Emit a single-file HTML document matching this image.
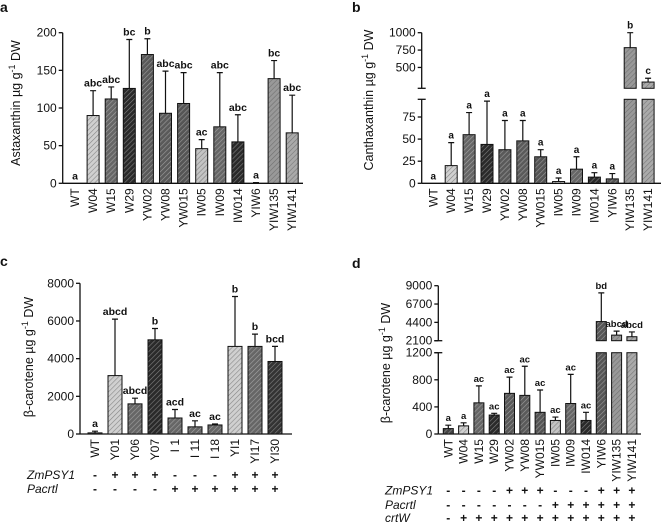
<!DOCTYPE html>
<html><head><meta charset="utf-8">
<style>
body{margin:0;background:#fff;}
svg{display:block;font-family:"Liberation Sans",sans-serif;}
</style></head>
<body>
<svg id="chart" width="661" height="522" viewBox="0 0 661 522">
<defs></defs>
</svg>
<script>
// ---- Panel a data ----
const catsABD = ["WT","W04","W15","W29","YW02","YW08","YW015","IW05","IW09","IW014","YIW6","YIW135","YIW141"];
const aVals = [0,90,112,126,171,93,106,46,75,55,0,139,67];
const aErr = [0,123,128,191,192,149,147,58,147,91,1,163,117];
const aLetters = ["a","abc","abc","bc","b","abc","abc","ac","abc","abc","a","bc","abc"];
const aTicks = [0,50,100,150,200];
// ---- Panel b data ----
const bVals = [0,20,55,44,38,48,30,2,16,7,5,785,290];
const bErr = [0,46,80,93,71,71,38,6,30,12,11,1000,345];
const bLetters = ["a","a","a","a","a","a","a","a","a","a","a","b","c"];
const bTicksLow = [0,25,50,75];
const bTicksHigh = [500,750,1000];
// ---- Panel c data ----
const catsC = ["WT","Y01","Y06","Y07","I 1","I 11","I 18","YI1","YI17","YI30"];
const cVals = [60,3100,1600,5000,850,380,480,4650,4650,3850];
const cErr = [150,6100,1900,5600,1300,700,530,7300,5300,4650];
const cLetters = ["a","abcd","abcd","b","acd","ac","ac","b","b","bcd"];
const cTicks = [0,2000,4000,6000,8000];
const cPSY = ["-","+","+","+","-","-","-","+","+","+"];
const cCrtI = ["-","-","-","-","+","+","+","+","+","+"];
// ---- Panel d data ----
const dVals = [80,120,460,280,600,570,320,200,450,200,4500,2800,2600];
const dErr = [130,165,710,305,840,1000,650,250,880,320,8100,3300,3200];
const dLetters = ["a","a","ac","ac","ac","ac","ac","ac","ac","ac","bd","abcd","abcd"];
const dTicksLow = [0,400,800,1200];
const dTicksHigh = [2100,4400,6700,9000];
const dPSY = ["-","-","-","-","+","+","+","-","-","-","+","+","+"];
const dCrtI = ["-","-","-","-","-","-","-","+","+","+","+","+","+"];
const dCrtW = ["-","+","+","+","+","+","+","+","+","+","+","+","+"];

const shadesABD = ["#444","#d0d0d0","#666","#2a2a2a","#595959","#5a5a5a","#555","#c4c4c4","#666","#2a2a2a","#555","#999","#aaa"];
const shadesC = ["#666","#d0d0d0","#666","#2a2a2a","#666","#666","#666","#d0d0d0","#666","#333"];

const NS="http://www.w3.org/2000/svg";
const svg=document.getElementById('chart');
const defs=svg.querySelector('defs');
function el(tag,attrs,parent){const e=document.createElementNS(NS,tag);for(const k in attrs)e.setAttribute(k,attrs[k]);(parent||svg).appendChild(e);return e;}
const patMap={};
function pattern(color){
  if(patMap[color])return patMap[color];
  const id='p'+Object.keys(patMap).length;
  const light=parseInt(color.slice(1,3),16)>140;
  const p=el('pattern',{id:id,patternUnits:'userSpaceOnUse',width:3.5,height:3.5,patternTransform:'rotate(45)'},defs);
  el('rect',{x:0,y:0,width:3.5,height:3.5,fill:color},p);
  el('line',{x1:0,y1:0,x2:0,y2:3.5,stroke:light?'#555':'#fff','stroke-opacity':light?0.6:0.4,'stroke-width':1.2},p);
  patMap[color]='url(#'+id+')';return patMap[color];
}
function text(x,y,s,opts){const t=el('text',Object.assign({x:x,y:y,'font-size':12,fill:'#111'},opts||{}));t.textContent=s;return t;}

function panel(cfg){
  const g=el('g',{});
  
  
  const xc=i=>cfg.x0+i*cfg.step;
  const y=v=>{
    if(!cfg.brk||v<=cfg.brk.lowMax) return cfg.y0-v*cfg.k;
    return cfg.brk.upY0-(v-cfg.brk.upMin)*cfg.brk.upK;
  };
  if(cfg.brk){
    el('line',{x1:cfg.ax,y1:cfg.y0,x2:cfg.ax,y2:cfg.brk.lowTop,stroke:'#111','stroke-width':1.3},g);
    el('line',{x1:cfg.ax,y1:cfg.brk.upY0,x2:cfg.ax,y2:y(cfg.ticksHigh[cfg.ticksHigh.length-1]),stroke:'#111','stroke-width':1.3},g);
    el('line',{x1:cfg.ax-4,y1:cfg.brk.lowTop,x2:cfg.ax+4,y2:cfg.brk.lowTop,stroke:'#111','stroke-width':1.3},g);
    el('line',{x1:cfg.ax-4,y1:cfg.brk.upY0,x2:cfg.ax+4,y2:cfg.brk.upY0,stroke:'#111','stroke-width':1.3},g);
  } else {
    el('line',{x1:cfg.ax,y1:cfg.y0,x2:cfg.ax,y2:y(cfg.ticks[cfg.ticks.length-1]),stroke:'#111','stroke-width':1.3},g);
  }
  el('line',{x1:cfg.ax,y1:cfg.y0,x2:cfg.axEnd,y2:cfg.y0,stroke:'#111','stroke-width':1.3},g);
  const allTicks=cfg.brk?cfg.ticks.concat(cfg.ticksHigh):cfg.ticks;
  allTicks.forEach(t=>{
    const yy=y(t);
    el('line',{x1:cfg.ax-4,y1:yy,x2:cfg.ax,y2:yy,stroke:'#111','stroke-width':1.3},g);
    const tl=text(cfg.ax-6,yy+4,String(t),{'text-anchor':'end','font-size':12});
    
    
    g.appendChild(tl);
  });
  const yt=el('text',{x:0,y:0,'font-size':12.5,fill:'#111','text-anchor':'middle',transform:`translate(${cfg.ytx},${cfg.yty}) rotate(-90)`},g);
  yt.innerHTML=cfg.ytitle+' µg g<tspan dy="-5" font-size="9">-1</tspan><tspan dy="5"> DW</tspan>';
  
  
  cfg.vals.forEach((v,i)=>{
    const cx=xc(i),w=cfg.bw,f=pattern(cfg.shades[i]);
    if(cfg.brk&&v>cfg.brk.lowMax){
      const r1=el('rect',{x:cx-w/2,y:cfg.brk.lowTop,width:w,height:cfg.y0-cfg.brk.lowTop,fill:f,stroke:'#111','stroke-width':1},g);
      
      
      const r2=el('rect',{x:cx-w/2,y:y(v),width:w,height:cfg.brk.upY0-y(v),fill:f,stroke:'#111','stroke-width':1},g);
      
      
    } else {
      const r=el('rect',{x:cx-w/2,y:y(v),width:w,height:Math.max(0,cfg.y0-y(v)),fill:f,stroke:'#111','stroke-width':1},g);
      
      
    }
    const e=cfg.err[i];
    if(e>v){
      const eb=el('path',{d:`M${cx},${y(v)}V${y(e)}M${cx-3},${y(e)}H${cx+3}`,stroke:'#111','stroke-width':1.2,fill:'none'},g);
      
      
    }
    const lt=text(cx,y(Math.max(e,v))-4,cfg.letters[i],{'text-anchor':'middle','font-size':cfg.lfs||10.5,'font-weight':'bold'});
    
    
    g.appendChild(lt);
    const xl=el('text',{x:0,y:0,'font-size':12,fill:'#111','text-anchor':'end',transform:`translate(${cx+4},${cfg.y0+5}) rotate(-90)`},g);
    xl.textContent=cfg.cats[i];
    
    
  });
  (cfg.rows||[]).forEach(r=>{
    const lab=text(r.lx,r.y+4,r.label,{'font-style':'italic','font-size':12});
    
    
    g.appendChild(lab);
    r.signs.forEach((s,i)=>{
      const st=text(xc(i),r.y+4,s,{'text-anchor':'middle','font-size':12,'font-weight':'bold'});
      
      
      g.appendChild(st);
    });
  });
  const pl=text(cfg.plx,cfg.ply,cfg.plabel,{'font-size':14,'font-weight':'bold'});
  
  
  g.appendChild(pl);
}

panel({name:'panel-a',cats:catsABD,vals:aVals,err:aErr,letters:aLetters,ticks:aTicks,shades:shadesABD,
  x0:75,step:18.1,bw:12,ax:62.7,axEnd:303,y0:183.3,k:150.6/200,ytitle:'Astaxanthin',ytx:20,yty:103,
  plabel:'a',plx:0,ply:12});
panel({name:'panel-b',cats:catsABD,vals:bVals,err:bErr,letters:bLetters,ticks:bTicksLow,ticksHigh:bTicksHigh,shades:shadesABD,
  x0:433.3,step:17.9,bw:12,ax:421.7,axEnd:661,y0:183.3,k:0.884,lfs:10,
  brk:{lowMax:105,lowTop:99.3,upMin:200,upY0:88.3,upK:55.6/800},
  ytitle:'Canthaxanthin',ytx:373,yty:100,plabel:'b',plx:352,ply:12});
panel({name:'panel-c',cats:catsC,vals:cVals,err:cErr,letters:cLetters,ticks:cTicks,shades:shadesC,
  x0:95,step:20,bw:14,ax:80,axEnd:292,y0:434,k:150.7/8000,ytitle:'β-carotene',ytx:33,yty:357,
  rows:[{label:'ZmPSY1',y:475,lx:27,signs:cPSY},{label:'Pacrtl',y:489,lx:27,signs:cCrtI}],
  plabel:'c',plx:0,ply:266});
panel({name:'panel-d',cats:catsABD,vals:dVals,err:dErr,letters:dLetters,ticks:dTicksLow,ticksHigh:dTicksHigh,shades:shadesABD,
  x0:448.3,step:15.3,bw:10,ax:438.3,axEnd:641,y0:434,k:81.3/1200,lfs:9.5,
  brk:{lowMax:1200,lowTop:352.7,upMin:2100,upY0:340.7,upK:55/6900},
  ytitle:'β-carotene',ytx:390,yty:363,
  rows:[{label:'ZmPSY1',y:490.7,lx:385,signs:dPSY},{label:'Pacrtl',y:505,lx:385,signs:dCrtI},{label:'crtW',y:518,lx:385,signs:dCrtW}],
  plabel:'d',plx:352,ply:268});
</script>
</body></html>
